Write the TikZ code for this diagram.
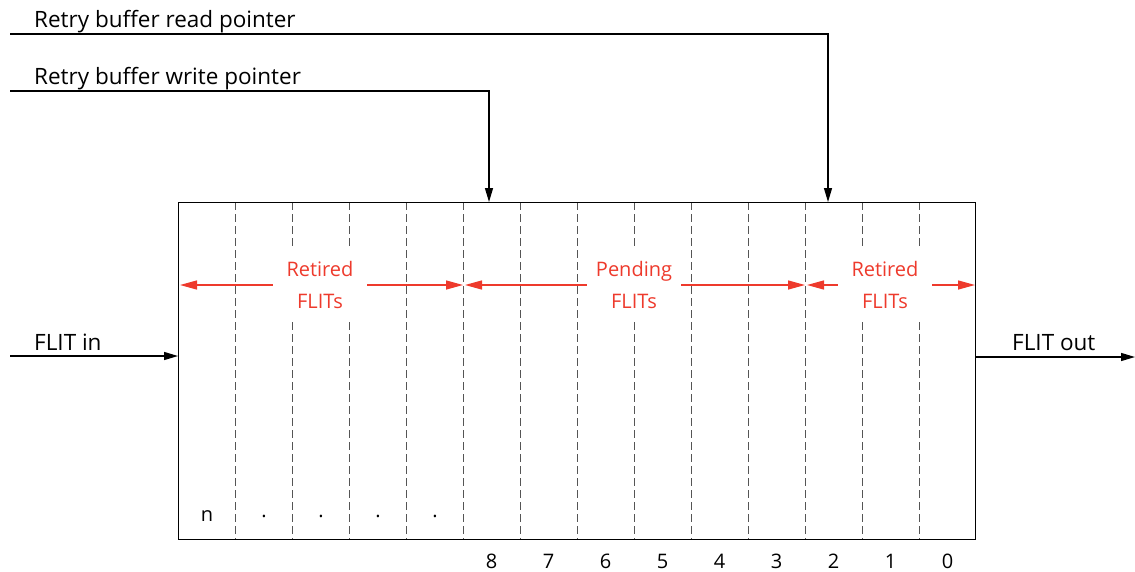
\documentclass[tikz,border=0pt]{standalone}
\usepackage{fontspec}
\setmainfont{Open Sans}
\usetikzlibrary{arrows.meta}
\definecolor{fred}{HTML}{EE3A2C}
\definecolor{dgray}{HTML}{555555}
\tikzset{
  txt/.style={font=\fontsize{22.5}{22.5}\selectfont, inner sep=0pt},
  small/.style={font=\fontsize{20}{20}\selectfont, inner sep=0pt},
  ptr/.style={line width=1.3pt, -{Triangle[length=14pt,width=8pt]}},
  divider/.style={dgray, line width=0.9pt, dash pattern=on 8pt off 4pt},
  redarr/.style={fred, line width=1.4pt, -{Triangle[length=17pt,width=9pt]}},
  redlbl/.style={fill=white, text=fred, font=\fontsize{20}{32}\selectfont, align=center, inner sep=0pt, minimum width=94pt, minimum height=74pt},
}
\begin{document}
\begin{tikzpicture}[x=1pt,y=-1pt]
\useasboundingbox (0,0) rectangle (1135,571);
% dividers
\foreach \i in {1,...,13} {
  \draw[divider] ({178+57*\i},202) -- ({178+57*\i},539);
}
% buffer box
\node[draw, line width=1.1pt, minimum width=797pt, minimum height=337pt, inner sep=0pt, anchor=north west] (buf) at (178,202) {};
% labels inside
\node[redlbl] (ret1) at (320,285) {Retired\\FLITs};
\node[redlbl] (pend) at (634,285) {Pending\\FLITs};
\node[redlbl] (ret2) at (885,285) {Retired\\FLITs};
\coordinate (a1) at (180,285);
\coordinate (a2) at (463,285);
\coordinate (a3) at (465,285);
\coordinate (a4) at (805,285);
\coordinate (a5) at (807,285);
\coordinate (a6) at (975,285);
\draw[redarr] (ret1.west) -- (a1);
\draw[redarr] (ret1.east) -- (a2);
\draw[redarr] (pend.west) -- (a3);
\draw[redarr] (pend.east) -- (a4);
\draw[redarr] (ret2.west) -- (a5);
\draw[redarr] (ret2.east) -- (a6);
% pointers
\node[txt, anchor=base west] (rpl) at (34,27) {Retry buffer read pointer};
\node[txt, anchor=base west] (wpl) at (34,84) {Retry buffer write pointer};
\coordinate (rps) at (10,34);
\coordinate (wps) at (10,91);
\coordinate (rpe) at (828,202);
\coordinate (wpe) at (489,202);
\draw[ptr] (rps) -| (rpe);
\draw[ptr] (wps) -| (wpe);
% flit in / out
\node[txt, anchor=base west] (fin) at (34,350) {FLIT in};
\node[txt, anchor=base west] (fout) at (1012,350) {FLIT out};
\coordinate (fins) at (10,356);
\coordinate (fine) at (178,356);
\coordinate (fouts) at (975,357);
\coordinate (foute) at (1135,357);
\draw[ptr] (fins) -- (fine);
\draw[ptr] (fouts) -- (foute);
% bottom cell labels
\node[small] (cn) at (207,516) {n};
\foreach \x [count=\k] in {264,321,378,435} {
  \node[small] (d\k) at (\x,516) {.};
}
\foreach \n [count=\k from 0] in {8,7,6,5,4,3,2,1,0} {
  \node[small] (num\n) at ({491.5+57*\k},561) {\n};
}
\end{tikzpicture}
\end{document}
